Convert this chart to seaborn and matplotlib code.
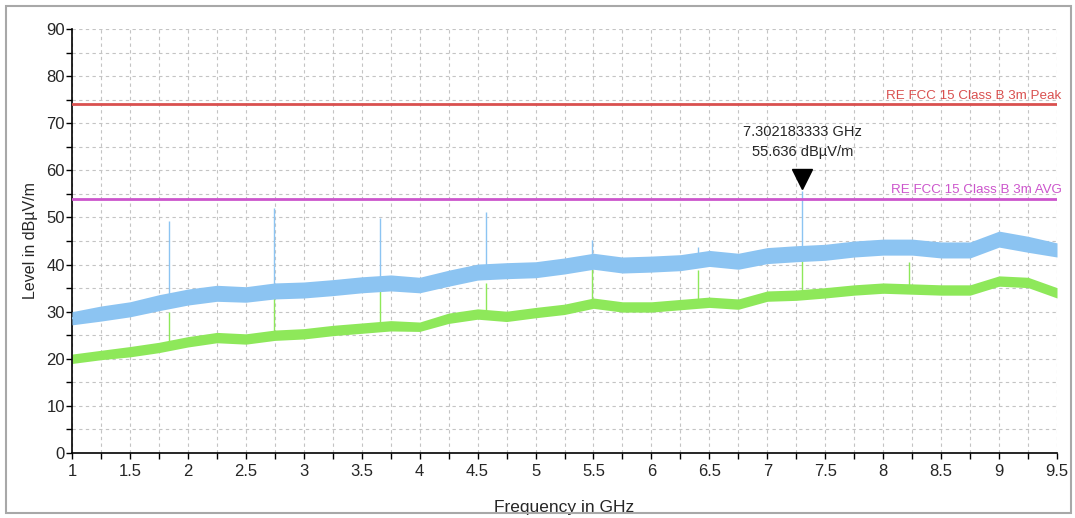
import matplotlib
matplotlib.use('Agg')
import matplotlib.pyplot as plt
from matplotlib import font_manager
from matplotlib.patches import Rectangle
from matplotlib.ticker import MultipleLocator
import seaborn as sns
import pandas as pd

freq = [1.0, 1.25, 1.5, 1.75, 2.0, 2.25, 2.5, 2.75, 3.0, 3.25, 3.5, 3.75,
        4.0, 4.25, 4.5, 4.75, 5.0, 5.25, 5.5, 5.75, 6.0, 6.25, 6.5, 6.75,
        7.0, 7.25, 7.5, 7.75, 8.0, 8.25, 8.5, 8.75, 9.0, 9.25, 9.5]

# Peak trace (blue): bottom / top of the noisy band in dBuV/m
peak_low = [27.2, 28.0, 28.9, 30.2, 31.4, 32.2, 32.0, 32.7, 32.9, 33.4, 34.0, 34.4,
            34.0, 35.4, 36.7, 37.0, 37.2, 38.0, 39.0, 38.2, 38.4, 38.7, 39.6, 39.0,
            40.2, 40.6, 40.9, 41.6, 42.0, 42.0, 41.4, 41.4, 43.7, 42.6, 41.6]
peak_high = [30.0, 31.2, 32.1, 33.6, 34.8, 35.6, 35.3, 36.1, 36.3, 36.8, 37.4, 37.8,
             37.3, 38.8, 40.1, 40.4, 40.6, 41.4, 42.4, 41.6, 41.8, 42.1, 43.0, 42.4,
             43.6, 44.0, 44.3, 45.0, 45.4, 45.4, 44.8, 44.8, 47.1, 46.0, 44.6]

# Average trace (green): bottom / top of the band in dBuV/m
avg_low = [19.0, 19.8, 20.4, 21.3, 22.5, 23.4, 23.1, 23.9, 24.2, 24.9, 25.4, 25.9,
           25.8, 27.5, 28.4, 27.9, 28.7, 29.4, 30.7, 29.9, 29.9, 30.4, 30.9, 30.5,
           32.2, 32.4, 32.9, 33.5, 33.9, 33.7, 33.5, 33.5, 35.4, 35.1, 32.9]
avg_high = [21.0, 21.8, 22.6, 23.5, 24.7, 25.6, 25.3, 26.1, 26.4, 27.1, 27.6, 28.1,
            27.8, 29.7, 30.6, 30.1, 30.9, 31.6, 32.9, 32.1, 32.1, 32.6, 33.1, 32.7,
            34.4, 34.6, 35.1, 35.7, 36.1, 35.9, 35.7, 35.7, 37.6, 37.3, 35.1]

# Harmonic spikes: frequency, top of blue spike, top of green spike
spike_freq = [1.84, 2.745, 3.657, 4.572, 5.484, 6.40, 7.302183333, 8.22]
spike_peak = [49.3, 52.0, 49.8, 51.2, 45.2, 43.8, 55.636, 44.5]
spike_avg = [30.0, 33.2, 34.6, 36.0, 39.3, 38.9, 41.0, 40.6]

# Limit lines
peak_limit = 74
avg_limit = 54
peak_limit_label = 'RE FCC 15 Class B 3m Peak'
avg_limit_label = 'RE FCC 15 Class B 3m AVG'

marker_freq = 7.302183333
marker_level = 55.636

xticks = [1, 1.5, 2, 2.5, 3, 3.5, 4, 4.5, 5, 5.5, 6, 6.5, 7, 7.5, 8, 8.5, 9, 9.5]
xticklabels = ['1', '1.5', '2', '2.5', '3', '3.5', '4', '4.5', '5', '5.5', '6', '6.5',
               '7', '7.5', '8', '8.5', '9', '9.5']
yticks = [0, 10, 20, 30, 40, 50, 60, 70, 80, 90]

sns.set_style('white')
names = {f.name for f in font_manager.fontManager.ttflist}
narrow = 'Liberation Sans Narrow' if 'Liberation Sans Narrow' in names else 'Liberation Sans'
plt.rcParams['font.family'] = [narrow, 'DejaVu Sans']

BLUE = '#8cc4f2'
GREEN = '#8ee85a'
RED = '#d9504f'
MAGENTA = '#cc55cc'

fig = plt.figure(figsize=(10.75, 5.18), dpi=100)
fig.patches.append(Rectangle((6 / 1075, 5 / 518), 1065 / 1075, 507 / 518,
                             transform=fig.transFigure, fill=False,
                             edgecolor='#a8a8a8', lw=1.5))
ax = fig.add_axes([72 / 1075, 65 / 518, 985 / 1075, 424 / 518])

df_peak = pd.DataFrame({'freq': freq, 'low': peak_low, 'high': peak_high})
df_avg = pd.DataFrame({'freq': freq, 'low': avg_low, 'high': avg_high})
df_peak['mid'] = (df_peak['low'] + df_peak['high']) / 2
df_avg['mid'] = (df_avg['low'] + df_avg['high']) / 2

# spikes start from the band at the nearest read frequency
near = [round(f * 4) / 4 for f in spike_freq]
avg_base = df_avg.set_index('freq')['mid'].reindex(near).values
peak_base = df_peak.set_index('freq')['mid'].reindex(near).values
ax.vlines(spike_freq, avg_base, spike_avg, color=GREEN, lw=1.0, zorder=2)
ax.vlines(spike_freq, peak_base, spike_peak, color=BLUE, lw=1.0, zorder=3)

ax.fill_between(df_avg['freq'], df_avg['low'], df_avg['high'], color=GREEN, lw=0, zorder=2)
sns.lineplot(data=df_avg, x='freq', y='mid', ax=ax, color=GREEN, lw=1.5, zorder=2)
ax.fill_between(df_peak['freq'], df_peak['low'], df_peak['high'], color=BLUE, lw=0, zorder=3)
sns.lineplot(data=df_peak, x='freq', y='mid', ax=ax, color=BLUE, lw=1.5, zorder=3)

# limit lines
ax.axhline(peak_limit, color=RED, lw=2, zorder=4)
ax.axhline(avg_limit, color=MAGENTA, lw=2, zorder=4)
ax.text(9.54, peak_limit + 0.5, peak_limit_label, color=RED, fontsize=9.6,
        ha='right', va='bottom', zorder=5)
ax.text(9.54, avg_limit + 0.5, avg_limit_label, color=MAGENTA, fontsize=9.6,
        ha='right', va='bottom', zorder=5)

# marker
ax.plot([marker_freq], [marker_level + 2.6], marker='v', markersize=15,
        color='black', zorder=6, clip_on=False)
ax.text(marker_freq, marker_level + 6.8, f'{marker_freq:.9f} GHz\n{marker_level:.3f} dBµV/m',
        ha='center', va='bottom', fontsize=10.5, linespacing=1.55, zorder=6)

ax.set_xlim(1, 9.5)
ax.set_ylim(0, 90)
ax.set_xticks(xticks)
ax.set_xticklabels(xticklabels)
ax.set_yticks(yticks)
ax.xaxis.set_minor_locator(MultipleLocator(0.25))
ax.yaxis.set_minor_locator(MultipleLocator(5))
ax.grid(True, which='both', color='#c4c4c4', ls=(0, (3, 3)), lw=0.8)
ax.set_axisbelow(True)
for s in ['top', 'right']:
    ax.spines[s].set_visible(False)
for s in ['left', 'bottom']:
    ax.spines[s].set_color('black')
    ax.spines[s].set_linewidth(1.2)
ax.tick_params(which='both', direction='out', length=4, width=1, color='black',
               labelsize=12, left=True, bottom=True)
ax.tick_params(axis='x', pad=4)
ax.tick_params(axis='y', pad=1)

ax.set_xlabel('Frequency in GHz', fontsize=12.5, labelpad=15)
ax.set_ylabel('Level in dBµV/m', fontsize=11.5, labelpad=6)

fig.savefig('out.png', dpi=100, facecolor='white')
